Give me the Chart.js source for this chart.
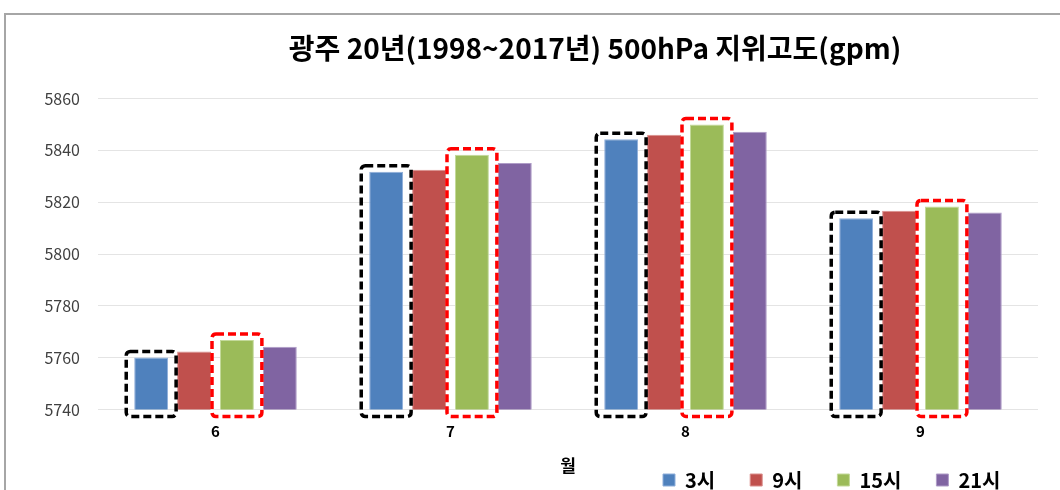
<!DOCTYPE html>
<html>
<head>
<meta charset="utf-8">
<script src="https://cdn.jsdelivr.net/npm/chart.js@4.4.0/dist/chart.umd.min.js"></script>
<style>
  html, body { margin: 0; padding: 0; background: #fff; }
  #wrap { position: relative; width: 1060px; height: 490px; }
  #frame {
    position: absolute; left: 4px; top: 13px; width: 1060px; height: 480px;
    border-top: 2px solid #a6a6a6; border-left: 2px solid #a6a6a6;
    pointer-events: none;
  }
</style>
</head>
<body>
<div id="wrap">
  <canvas id="chart" width="1060" height="490"></canvas>
  <div id="frame"></div>
</div>
<script>
// months on the x axis
const months = ['6', '7', '8', '9']
// series: hour of observation
const seriesNames = ['3시', '9시', '15시', '21시']
const h03 = [5760.1, 5831.8, 5844.3, 5813.8]
const h09 = [5762.4, 5832.5, 5846.0, 5816.7]
const h15 = [5766.8, 5838.3, 5850.0, 5818.4]
const h21 = [5764.2, 5835.1, 5847.2, 5816.0]
// y axis
const yMin = 5740
const yMax = 5860
const yStep = 20

const fill = ['#4F81BD', '#C0504D', '#9BBB59', '#8064A2']
const edge = ['#8EAEDA', '#DA8E8C', '#C3D99A', '#AF9CC7']
const font = '"Noto Sans CJK KR", "Noto Sans", sans-serif'

// dashed highlight boxes around the 3시 (black) and 15시 (red) bars
const highlightBoxes = {
  id: 'highlightBoxes',
  afterDatasetsDraw(chart) {
    const ctx = chart.ctx
    const base = chart.scales.y.getPixelForValue(yMin)
    const marks = [{ ds: 0, color: '#000000' }, { ds: 2, color: '#FF0000' }]
    ctx.save()
    ctx.lineWidth = 3.5
    ctx.setLineDash([8, 4])
    marks.forEach(m => {
      const meta = chart.getDatasetMeta(m.ds)
      meta.data.forEach(bar => {
        const { x, y, width } = bar.getProps(['x', 'y', 'width'], true)
        const left = x - width / 2 - 8
        const right = x + width / 2 + 8
        const top = y - 6
        const bottom = base + 7
        ctx.strokeStyle = m.color
        ctx.beginPath()
        ctx.roundRect(left, top, right - left, bottom - top, 4)
        ctx.stroke()
      })
    })
    ctx.restore()
  }
}

// move title and legend to where the original sits
const placeBlocks = {
  id: 'placeBlocks',
  afterLayout(chart) {
    const t = chart.titleBlock
    if (t) { t.left = 130; t.right = 1060 }
    const lg = chart.legend
    if (lg) {
      const pad = lg.options.labels.padding
      lg.left = 663 - pad
      lg.right = 1060
      lg.top = 480 - pad - 10
    }
  }
}

const ctx = document.getElementById('chart').getContext('2d')
new Chart(ctx, {
  type: 'bar',
  data: {
    labels: months,
    datasets: [h03, h09, h15, h21].map((d, i) => ({
      label: seriesNames[i],
      data: d,
      backgroundColor: fill[i],
      borderColor: edge[i],
      borderWidth: 1,
      barPercentage: 0.79,
      categoryPercentage: 0.73
    }))
  },
  options: {
    responsive: false,
    animation: false,
    layout: { padding: { left: 10, right: 22, top: 0, bottom: 0 } },
    plugins: {
      title: {
        display: true,
        text: '광주 20년(1998~2017년) 500hPa 지위고도(gpm)',
        color: '#000',
        font: { family: font, size: 28, weight: 'bold' },
        padding: { top: 32, bottom: 33 }
      },
      legend: {
        position: 'bottom',
        align: 'start',
        maxHeight: 28,
        labels: {
          color: '#000',
          boxWidth: 12,
          boxHeight: 12,
          padding: 35,
          font: { family: font, size: 20, weight: 'bold' }
        }
      },
      tooltip: { enabled: false }
    },
    scales: {
      x: {
        grid: { display: false },
        border: { display: false },
        ticks: {
          color: '#000',
          padding: 5,
          font: { family: font, size: 15, weight: 'bold' }
        },
        title: {
          display: true,
          text: '월',
          color: '#000',
          font: { family: font, size: 17, weight: 'bold' },
          padding: { top: 0, bottom: -14 }
        },
        afterFit(scale) { scale.height = 52.5 }
      },
      y: {
        min: yMin,
        max: yMax,
        ticks: {
          stepSize: yStep,
          color: '#404040',
          padding: 18,
          font: { family: font, size: 16 },
          callback: v => String(v)
        },
        grid: { color: '#e4e4e4', drawTicks: false },
        border: { display: false },
        afterFit(scale) { scale.width = 88 }
      }
    }
  },
  plugins: [highlightBoxes, placeBlocks]
})
</script>
</body>
</html>
